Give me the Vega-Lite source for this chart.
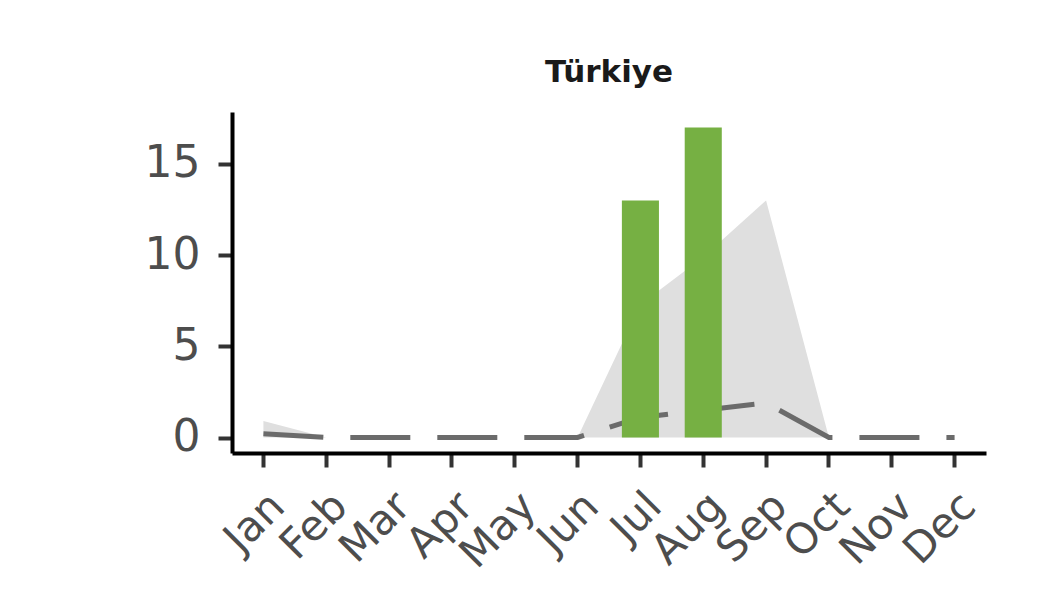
{
  "$schema": "https://vega.github.io/schema/vega-lite/v6.json",
  "autosize": {"type": "none"},
  "width": 754,
  "height": 341,
  "padding": {"left": 232, "top": 112, "right": 71, "bottom": 136},
  "background": "white",
  "title": {
    "text": "Türkiye",
    "font": "DejaVu Sans",
    "fontSize": 31,
    "fontWeight": "bold",
    "color": "#1a1a1a",
    "anchor": "middle",
    "offset": 23
  },
  "config": {
    "view": {"stroke": null},
    "axis": {
      "grid": false,
      "domainColor": "#000000",
      "domainWidth": 4,
      "tickColor": "#333333",
      "tickWidth": 4,
      "tickSize": 14,
      "labelFont": "DejaVu Sans",
      "labelFontSize": 42,
      "labelColor": "#4d4d4d",
      "title": null
    }
  },
  "data": {
    "values": [
      {"month": "Jan", "mean": 0.2, "lo": 0, "hi": 0.9, "obs": null},
      {"month": "Feb", "mean": 0, "lo": 0, "hi": 0, "obs": null},
      {"month": "Mar", "mean": 0, "lo": 0, "hi": 0, "obs": null},
      {"month": "Apr", "mean": 0, "lo": 0, "hi": 0, "obs": null},
      {"month": "May", "mean": 0, "lo": 0, "hi": 0, "obs": null},
      {"month": "Jun", "mean": 0, "lo": 0, "hi": 0, "obs": null},
      {"month": "Jul", "mean": 1.1, "lo": 0, "hi": 7.3, "obs": 13},
      {"month": "Aug", "mean": 1.5, "lo": 0, "hi": 9.9, "obs": 17},
      {"month": "Sep", "mean": 1.9, "lo": 0, "hi": 13, "obs": null},
      {"month": "Oct", "mean": 0, "lo": 0, "hi": 0, "obs": null},
      {"month": "Nov", "mean": 0, "lo": 0, "hi": 0, "obs": null},
      {"month": "Dec", "mean": 0, "lo": 0, "hi": 0, "obs": null}
    ]
  },
  "encoding": {
    "x": {
      "field": "month",
      "type": "ordinal",
      "sort": ["Jan","Feb","Mar","Apr","May","Jun","Jul","Aug","Sep","Oct","Nov","Dec"],
      "scale": {"type": "band", "paddingInner": 0, "paddingOuter": 0},
      "axis": {"labelAngle": -45, "labelAlign": "right", "labelBaseline": "top", "labelPadding": 18, "ticks": true}
    }
  },
  "layer": [
    {
      "mark": {"type": "area", "color": "#dfdfdf", "opacity": 1},
      "encoding": {
        "y": {"field": "lo", "type": "quantitative", "scale": {"domain": [-0.85, 17.85], "nice": false, "zero": false},
              "axis": {"values": [0, 5, 10, 15], "labelPadding": 18, "labelFontSize": 44}},
        "y2": {"field": "hi"}
      }
    },
    {
      "mark": {"type": "line", "color": "#6b6b6b", "strokeWidth": 5, "strokeDash": [60, 27], "strokeCap": "butt"},
      "encoding": {
        "y": {"field": "mean", "type": "quantitative"}
      }
    },
    {
      "mark": {"type": "bar", "color": "#76b043", "width": {"band": 0.59}},
      "encoding": {
        "y": {"field": "obs", "type": "quantitative"},
        "y2": {"datum": 0}
      }
    }
  ]
}
